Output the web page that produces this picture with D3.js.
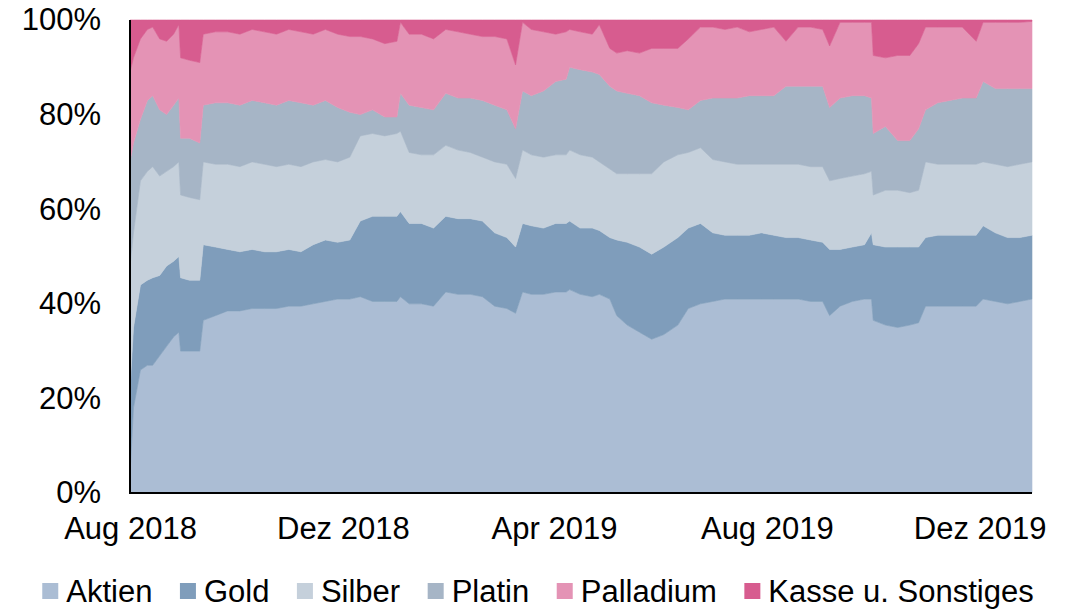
<!DOCTYPE html>
<html>
<head>
<meta charset="utf-8">
<script src="https://cdn.jsdelivr.net/npm/d3@7"></script>
<style>
  html, body { margin: 0; padding: 0; background: #fff; }
  svg { display: block; font-family: "Liberation Sans", Arial, sans-serif; }
</style>
</head>
<body>
<svg id="chart" width="1076" height="610"></svg>
<script>
// Portfolio allocation over time (shares in % of fund assets)
const dates = [
  "2018-08-01","2018-08-03","2018-08-07","2018-08-11","2018-08-14","2018-08-18","2018-08-22","2018-08-26",
  "2018-08-29","2018-08-30","2018-09-04","2018-09-10","2018-09-12","2018-09-19","2018-09-26","2018-10-03",
  "2018-10-10","2018-10-17","2018-10-24","2018-10-31","2018-11-07","2018-11-14","2018-11-21","2018-11-28",
  "2018-12-05","2018-12-11","2018-12-18","2018-12-25","2019-01-01","2019-01-03","2019-01-08","2019-01-15",
  "2019-01-22","2019-01-29","2019-02-05","2019-02-12","2019-02-19","2019-02-26","2019-03-05","2019-03-10",
  "2019-03-14","2019-03-19","2019-03-26","2019-04-02","2019-04-08","2019-04-10","2019-04-16","2019-04-23",
  "2019-04-27","2019-05-03","2019-05-07","2019-05-13","2019-05-20","2019-05-27","2019-06-03","2019-06-11",
  "2019-06-17","2019-06-24","2019-07-01","2019-07-08","2019-07-15","2019-07-22","2019-07-29","2019-08-05",
  "2019-08-12","2019-08-19","2019-08-26","2019-09-02","2019-09-06","2019-09-12","2019-09-19","2019-09-26",
  "2019-09-30","2019-10-01","2019-10-08","2019-10-15","2019-10-22","2019-10-27","2019-10-31","2019-11-07",
  "2019-11-14","2019-11-21","2019-11-29","2019-12-03","2019-12-10","2019-12-17","2019-12-24","2019-12-31"
];

const aktien = [
  4,18,26,27,27,29,31,33, 34,30,30,30,36.5,37.5,38.5,38.5,
  39,39,39,39.5,39.5,40,40.5,41, 41,41.5,40.5,40.5,40.5,41.5,40,40,
  39.5,42.5,42,42,41.5,39.5,39,38, 42.5,42,42,42.5,42.5,43,42,41.5,
  42,41,37.5,35.5,34,32.5,33.5,35.5, 39,40,40.5,41,41,41,41,41,
  41,41,40.5,40.5,37.5,39.5,40.5,41, 41,36.5,35.5,35,35.5,36,39.5,39.5,
  39.5,39.5,39.5,41,40.5,40,40.5,41
];
const gold = [
  18,17,18,18,18.5,17,17,16, 16,15.5,15,15,16,14.5,13,12.5,
  12.5,12,12,12,11.5,12.5,13,12, 12.5,16,18,18,18,18,17,17,
  16.5,16,16,16,16,15.5,15,14, 14.5,14.5,14,14.5,14.5,14.5,14,14.5,
  13.5,13,16,17.5,18,18,18.5,18.5, 17,17,14.5,13.5,13.5,13.5,14,13.5,
  13,13,13,12.5,14,12,11.5,11.5, 14,16,16.5,17,16.5,16,14.5,15,
  15,15,15,15.5,14.5,14,13.5,13.5
];
const silber = [
  26,20,22,23,23.5,21,20,20, 20,17.5,17.5,17,17.5,17.5,18,18,
  18.5,18.5,18,18,18,17.5,17,17, 17.5,18,17.5,17,17.5,17,15,14.5,
  15.5,15,14.5,14,13.5,15,15.5,14.5, 15.5,15,15,14.5,14.5,15,15.5,15,
  14.5,14.5,14,14.5,15.5,17,18,17.5, 16,16,15.5,15.5,15,15,14.5,15,
  15.5,15.5,15.5,16,14.5,15,15,15, 13,10.5,12,12,11.5,12,16,15,
  15,15,15,13.5,14.5,15,15.5,15.5
];
const platin = [
  22,19,13,15,15,14,12,13, 13.5,12,12.5,12,12,13,13,13,
  13,13,13,13.5,13.5,12,12.5,11.5, 9.5,4.5,5,4,3.5,8,10,10,
  9.5,11,11,11.5,12,12,11.5,10.5, 12.5,12.5,14,15.5,16,17.5,18,18,
  18.5,17.5,17.5,17,16.5,15,12,10, 9,10,13,13.5,14,14.5,14.5,14.5,
  16.5,16.5,17,17,15.5,17,17,16.5, 15.5,13,13.5,10.5,11,13,11,13,
  13.5,14,14,17,16,16.5,16,15.5
];
const palladium = [
  19,18,17,15,14.5,15,15.5,15, 15.5,17,16.5,17,15,15,15,15,
  15,15,15,15,15,15,15,15.5, 16,16.5,15,15.5,16,15,15,15.5,
  15,13.5,14,13.5,13.5,14.5,15,13.5, 14.5,14,12.5,10,10,8,8,8,
  10.5,8,8,9,9,11.5,12,12.5, 15,15.5,15,14.5,15,13.5,14,14.5,
  9.5,12.5,12.5,12,13,16,15.5,15.5, 16,16.5,14.5,18,18,18,17.5,16,
  15.5,15,12,12.5,14,14,14,14.2
];
const kasse = [
  11,8,4,2,1.5,4,4.5,3, 1,8,8.5,9,3,2.5,2.5,3,
  2,2.5,3,2,2.5,3,2,3, 3.5,3.5,4,5,4.5,0.5,3,3,
  4,2,2.5,3,3.5,3.5,4,9.5, 0.5,2,2.5,3,2.5,2,2.5,3,
  1,6,7,6.5,7,6,6,6, 4,1.5,1.5,2,1.5,2.5,2,1.5,
  4.5,1.5,1.5,2,5.5,0.5,0.5,0.5, 0.5,7.5,8,7.5,7.5,5,1.5,1.5,
  1.5,1.5,4.5,0.5,0.5,0.5,0.5,0.3
];

const seriesNames = ["Aktien", "Gold", "Silber", "Platin", "Palladium", "Kasse u. Sonstiges"];
const seriesValues = [aktien, gold, silber, platin, palladium, kasse];
const seriesColors = ["#abbdd4", "#7f9dbb", "#c5d0db", "#a6b5c6", "#e493b5", "#d75c8f"];

const xTickDates = ["2018-08-01", "2018-12-01", "2019-04-01", "2019-08-01", "2019-12-01"];
const xTickLabels = ["Aug 2018", "Dez 2018", "Apr 2019", "Aug 2019", "Dez 2019"];
const yTicks = [0, 0.2, 0.4, 0.6, 0.8, 1.0];

const FONT = "'Liberation Sans', Arial, sans-serif";
const FONT_SIZE = 31;

const parse = d3.utcParse("%Y-%m-%d");
const rows = dates.map((d, i) => {
  const r = { date: parse(d) };
  seriesNames.forEach((n, k) => r[n] = seriesValues[k][i]);
  return r;
});

const svg = d3.select("#chart");
const margin = { left: 130, right: 44, top: 20, bottom: 117 };
const W = 1076, H = 610;

const x = d3.scaleUtc()
  .domain([parse(dates[0]), parse(dates[dates.length - 1])])
  .range([margin.left, W - margin.right]);
const y = d3.scaleLinear().domain([0, 1]).range([H - margin.bottom, margin.top]);

const stack = d3.stack().keys(seriesNames).offset(d3.stackOffsetExpand);
const layers = stack(rows);

const area = d3.area()
  .x(d => x(d.data.date))
  .y0(d => y(d[0]))
  .y1(d => y(d[1]))
  .curve(d3.curveLinear);

svg.append("g").selectAll("path")
  .data(layers)
  .join("path")
  .attr("d", area)
  .attr("fill", (d, i) => seriesColors[i])
  .attr("stroke", (d, i) => seriesColors[i])
  .attr("stroke-width", 0.6);

// Y axis labels
const yAxis = d3.axisLeft(y).tickValues(yTicks).tickFormat(d3.format(".0%")).tickSize(0).tickPadding(29);
const gy = svg.append("g").attr("transform", `translate(${margin.left},0)`).call(yAxis);
gy.select(".domain").remove();
gy.selectAll("text").attr("font-size", FONT_SIZE).attr("fill", "#000").attr("font-family", FONT);

// X axis labels
const xAxis = d3.axisBottom(x).tickValues(xTickDates.map(parse))
  .tickFormat((d, i) => xTickLabels[i]).tickSize(0).tickPadding(24);
const gx = svg.append("g").attr("transform", `translate(0,${H - margin.bottom})`).call(xAxis);
gx.select(".domain").remove();
gx.selectAll("text").attr("font-size", FONT_SIZE).attr("fill", "#000").attr("font-family", FONT);

// Axis lines
svg.append("line")
  .attr("x1", margin.left).attr("x2", margin.left)
  .attr("y1", y(1)).attr("y2", y(0) + 1)
  .attr("stroke", "#000").attr("stroke-width", 2);
svg.append("line")
  .attr("x1", margin.left - 1).attr("x2", W - margin.right)
  .attr("y1", y(0)).attr("y2", y(0))
  .attr("stroke", "#000").attr("stroke-width", 2);

// Legend
const legend = svg.append("g");
const items = legend.selectAll("g").data(seriesNames).join("g");
items.append("rect")
  .attr("width", 16).attr("height", 16)
  .attr("y", -19)
  .attr("fill", (d, i) => seriesColors[i]);
items.append("text")
  .attr("x", 24)
  .attr("font-size", FONT_SIZE)
  .attr("font-family", FONT)
  .attr("fill", "#000")
  .text(d => d);
let offset = 0;
const gap = 27.5;
items.each(function () {
  const g = d3.select(this);
  g.attr("transform", `translate(${offset},0)`);
  offset += 24 + g.select("text").node().getComputedTextLength() + gap;
});
const total = offset - gap;
legend.attr("transform", `translate(${(W - total) / 2},602)`);
</script>
</body>
</html>
